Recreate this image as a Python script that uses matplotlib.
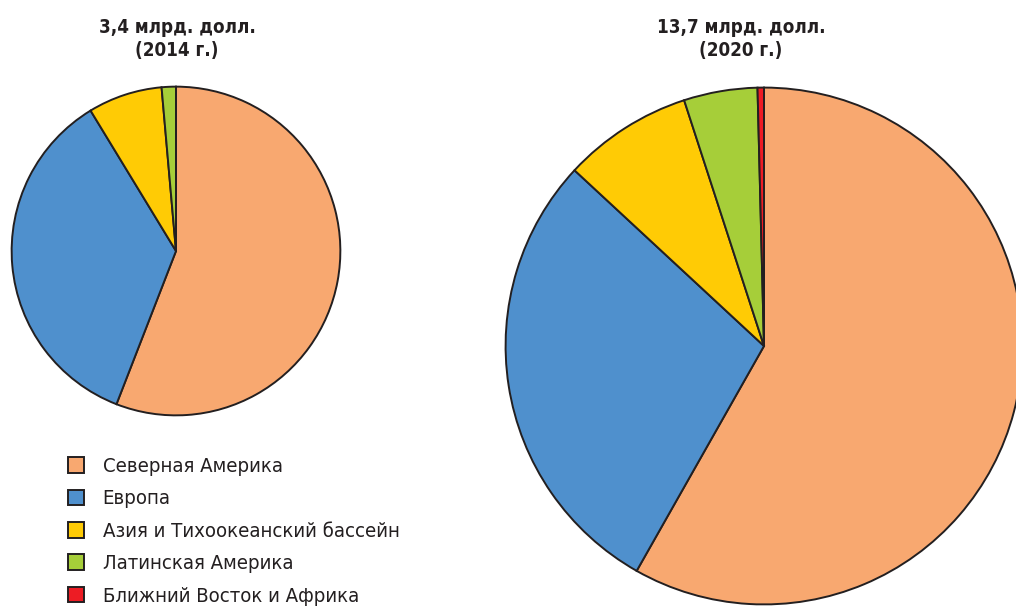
import matplotlib.pyplot as plt

regions = ["Северная Америка", "Европа", "Азия и Тихоокеанский бассейн",
           "Латинская Америка", "Ближний Восток и Африка"]
share_2014 = [55.9, 35.4, 7.3, 1.4, 0.0]
share_2020 = [58.2, 28.7, 8.1, 4.6, 0.4]
title_2014 = "3,4 млрд. долл.\n(2014 г.)"
title_2020 = "13,7 млрд. долл.\n(2020 г.)"
colors = ["#f8a870", "#4f90cd", "#ffcb05", "#a6ce39", "#ed1c24"]

plt.rcParams["font.family"] = ["DejaVu Sans"]
plt.rcParams["font.stretch"] = "condensed"

W, H = 1016, 607
fig = plt.figure(figsize=(W / 100, H / 100), dpi=100)


def px_axes(cx, cy, r):
    # square axes from pixel centre/radius (y measured from top)
    return fig.add_axes([(cx - r) / W, (H - cy - r) / H, 2 * r / W, 2 * r / H])


wedge_style = dict(edgecolor="#231f20", linewidth=1.4)

ax1 = px_axes(176, 251, 166)
ax1.pie(share_2014, colors=colors, startangle=90, counterclock=False,
        wedgeprops=wedge_style, radius=1)
ax1.set_xlim(-1.01, 1.01)
ax1.set_ylim(-1.01, 1.01)
ax1.axis("off")

ax2 = px_axes(764, 346, 261)
wedges, _ = ax2.pie(share_2020, colors=colors, startangle=90, counterclock=False,
                    wedgeprops=wedge_style, radius=1)
ax2.set_xlim(-1.01, 1.01)
ax2.set_ylim(-1.01, 1.01)
ax2.axis("off")

fig.text(177 / W, 1 - 39 / H, title_2014, ha="center", va="center",
         fontsize=13.5, fontweight="bold", color="#231f20", linespacing=1.3)
fig.text(741 / W, 1 - 39 / H, title_2020, ha="center", va="center",
         fontsize=13.5, fontweight="bold", color="#231f20", linespacing=1.3)

fig.legend(wedges, regions, loc="upper left", bbox_to_anchor=(60 / W, 1 - 449 / H),
           frameon=False, fontsize=14.6, handlelength=0.8, handleheight=0.8,
           handletextpad=0.9, labelspacing=0.66, borderaxespad=0,
           labelcolor="#231f20")

fig.savefig("out.png", dpi=100)
